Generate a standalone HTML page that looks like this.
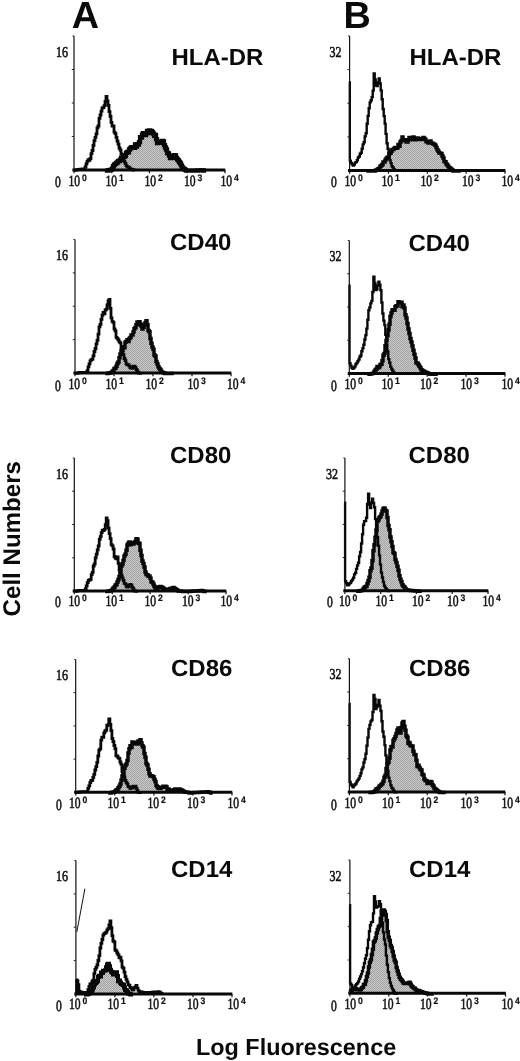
<!DOCTYPE html>
<html lang="en">
<head>
<meta charset="utf-8">
<title>Figure</title>
<style>html,body{margin:0;padding:0;background:#fff}svg{display:block;will-change:transform;opacity:.999}text{-webkit-font-smoothing:antialiased;text-rendering:geometricPrecision}</style>
</head>
<body>
<svg width="520" height="1061" viewBox="0 0 520 1061">
<defs><pattern id="ht" width="2" height="2" patternUnits="userSpaceOnUse"><rect width="2" height="2" fill="#c8c8c8"/><rect width="1" height="1" fill="#a4a4a4"/><rect x="1" y="1" width="1" height="1" fill="#a4a4a4"/></pattern></defs>
<rect width="520" height="1061" fill="#fff"/>
<g font-family="'Liberation Sans',sans-serif" font-weight="bold" fill="#0a0a0a">
<text x="71.8" y="27.8" font-size="37.8">A</text>
<text x="343.6" y="27.8" font-size="37.8">B</text>
<text x="196" y="1054.5" font-size="23.4">Log Fluorescence</text>
<text transform="translate(19.6 616.4) rotate(-90)" font-size="24.1">Cell Numbers</text>
</g>
<g>
<path d="M107.0 170.0H108.0V170.0H109.0V170.0H110.0V169.9H111.0V169.7H112.0V168.6H113.0V166.2H114.0V164.7H115.0V163.9H116.0V163.0H117.0V162.4H118.0V161.0H119.0V161.1H120.0V159.7H121.0V157.7H122.0V157.6H123.0V155.4H124.0V156.8H125.0V155.8H126.0V152.9H127.0V151.8H128.0V152.3H129.0V149.5H130.0V148.4H131.0V147.4H132.0V147.1H133.0V147.4H134.0V147.9H135.0V144.4H136.0V146.5H137.0V144.2H138.0V144.5H139.0V142.1H140.0V137.2H141.0V137.5H142.0V134.4H143.0V133.1H144.0V134.1H145.0V135.0H146.0V133.3H147.0V131.0H148.0V132.8H149.0V130.5H150.0V133.2H151.0V131.0H152.0V132.2H153.0V133.7H154.0V135.8H155.0V134.8H156.0V139.1H157.0V143.2H158.0V142.8H159.0V142.9H160.0V142.9H161.0V141.5H162.0V141.0H163.0V141.4H164.0V145.2H165.0V147.5H166.0V149.5H167.0V153.0H168.0V153.3H169.0V155.6H170.0V158.2H171.0V158.0H172.0V157.8H173.0V156.7H174.0V155.2H175.0V155.5H176.0V157.9H177.0V159.4H178.0V160.4H179.0V162.0H180.0V163.4H181.0V165.3H182.0V167.4H183.0V168.6H184.0V169.2H185.0V169.9H186.0V170.0H187.0V170.0H188.0V170.0H189.0V170.0H190.0V170.0H191.0V170.0H192.0V170.0H193.0V170.0H194.0V170.0H195.0V170.0H196.0V170.0H197.0V170.0H198.0V170.0H199.0V170.0H200.0V170.0H201.0V170.0H202.0V170.0H203.0V170.0H204.0V170.0V170.0H107.0Z" fill="url(#ht)" stroke="none"/>
<path d="M107.0 170.6H108.0V170.4H109.0V170.1H110.0V169.9H111.0V169.7H112.0V168.6H113.0V166.2H114.0V164.7H115.0V163.9H116.0V163.0H117.0V162.4H118.0V161.0H119.0V161.1H120.0V159.7H121.0V157.7H122.0V157.6H123.0V155.4H124.0V156.8H125.0V155.8H126.0V152.9H127.0V151.8H128.0V152.3H129.0V149.5H130.0V148.4H131.0V147.4H132.0V147.1H133.0V147.4H134.0V147.9H135.0V144.4H136.0V146.5H137.0V144.2H138.0V144.5H139.0V142.1H140.0V137.2H141.0V137.5H142.0V134.4H143.0V133.1H144.0V134.1H145.0V135.0H146.0V133.3H147.0V131.0H148.0V132.8H149.0V130.5H150.0V133.2H151.0V131.0H152.0V132.2H153.0V133.7H154.0V135.8H155.0V134.8H156.0V139.1H157.0V143.2H158.0V142.8H159.0V142.9H160.0V142.9H161.0V141.5H162.0V141.0H163.0V141.4H164.0V145.2H165.0V147.5H166.0V149.5H167.0V153.0H168.0V153.3H169.0V155.6H170.0V158.2H171.0V158.0H172.0V157.8H173.0V156.7H174.0V155.2H175.0V155.5H176.0V157.9H177.0V159.4H178.0V160.4H179.0V162.0H180.0V163.4H181.0V165.3H182.0V167.4H183.0V168.6H184.0V169.2H185.0V169.9H186.0V170.6H187.0V170.6H188.0V170.6H189.0V170.6H190.0V170.6H191.0V170.6H192.0V170.6H193.0V170.6H194.0V170.6H195.0V170.6H196.0V170.6H197.0V170.5H198.0V170.4H199.0V170.4H200.0V170.3H201.0V170.2H202.0V170.3H203.0V170.5H204.0V170.6" fill="none" stroke="#080808" stroke-width="4.3" stroke-linejoin="miter" stroke-linecap="square"/>
<path d="M74.0 170.3H75.0V170.2H76.0V169.9H77.0V169.7H78.0V169.4H79.0V169.3H80.0V169.2H81.0V169.1H82.0V169.0H83.0V168.9H84.0V168.8H85.0V167.0H86.0V163.8H87.0V161.4H88.0V159.6H89.0V160.4H90.0V158.5H91.0V153.6H92.0V150.5H93.0V145.4H94.0V140.6H95.0V137.3H96.0V133.8H97.0V127.9H98.0V126.0H99.0V118.4H100.0V115.0H101.0V111.2H102.0V107.9H103.0V107.7H104.0V105.7H105.0V101.4H106.0V96.5H107.0V100.9H108.0V105.4H109.0V111.6H110.0V116.4H111.0V122.4H112.0V126.1H113.0V126.0H114.0V132.2H115.0V133.7H116.0V137.3H117.0V141.1H118.0V144.2H119.0V148.0H120.0V150.0H121.0V153.8H122.0V155.7H123.0V159.6H124.0V161.3H125.0V163.5H126.0V165.7H127.0V166.8H128.0V167.0H129.0V167.9H130.0V168.8H131.0V169.1H132.0V169.5H133.0V169.9H134.0V170.2H135.0V170.3" fill="none" stroke="#080808" stroke-width="2.8" stroke-linejoin="miter"/>
<line x1="74.0" y1="36.0" x2="74.0" y2="171.0" stroke="#111" stroke-width="1.2"/>
<line x1="72.4" y1="170.0" x2="225.3" y2="170.0" stroke="#080808" stroke-width="3.0"/>
<line x1="71.8" y1="136.5" x2="74.0" y2="136.5" stroke="#222" stroke-width="1"/>
<line x1="71.8" y1="103.0" x2="74.0" y2="103.0" stroke="#222" stroke-width="1"/>
<line x1="71.8" y1="69.5" x2="74.0" y2="69.5" stroke="#222" stroke-width="1"/>
<line x1="72.5" y1="36.0" x2="74.0" y2="36.0" stroke="#222" stroke-width="1"/>
<line x1="74.0" y1="170.0" x2="74.0" y2="173.2" stroke="#111" stroke-width="1.2"/>
<line x1="111.8" y1="170.0" x2="111.8" y2="173.2" stroke="#111" stroke-width="1.2"/>
<line x1="149.5" y1="170.0" x2="149.5" y2="173.2" stroke="#111" stroke-width="1.2"/>
<line x1="187.2" y1="170.0" x2="187.2" y2="173.2" stroke="#111" stroke-width="1.2"/>
<line x1="225.0" y1="170.0" x2="225.0" y2="173.2" stroke="#111" stroke-width="1.2"/>
<g fill="#111">
<text transform="translate(56.1 56.6) scale(0.790 1)" font-family="'Liberation Serif',serif" font-size="15.2" font-weight="normal" stroke="#111" stroke-width="0.60">16</text>
<text transform="translate(55.1 187.0) scale(0.745 1)" font-family="'Liberation Serif',serif" font-size="15.6" font-weight="normal" stroke="#111" stroke-width="0.60">0</text>
<text transform="translate(68.4 185.6) scale(0.745 1)" font-family="'Liberation Serif',serif" font-size="15.6" font-weight="normal" stroke="#111" stroke-width="0.60">10</text>
<text transform="translate(81.9 180.6) scale(0.920 1)" font-family="'Liberation Sans',serif" font-size="9.4" font-weight="bold" stroke="#111" stroke-width="0.20">0</text>
<text transform="translate(105.4 185.6) scale(0.745 1)" font-family="'Liberation Serif',serif" font-size="15.6" font-weight="normal" stroke="#111" stroke-width="0.60">10</text>
<text transform="translate(118.9 180.6) scale(0.920 1)" font-family="'Liberation Sans',serif" font-size="9.4" font-weight="bold" stroke="#111" stroke-width="0.20">1</text>
<text transform="translate(144.4 185.6) scale(0.745 1)" font-family="'Liberation Serif',serif" font-size="15.6" font-weight="normal" stroke="#111" stroke-width="0.60">10</text>
<text transform="translate(157.9 180.6) scale(0.920 1)" font-family="'Liberation Sans',serif" font-size="9.4" font-weight="bold" stroke="#111" stroke-width="0.20">2</text>
<text transform="translate(183.9 185.6) scale(0.745 1)" font-family="'Liberation Serif',serif" font-size="15.6" font-weight="normal" stroke="#111" stroke-width="0.60">10</text>
<text transform="translate(197.4 180.6) scale(0.920 1)" font-family="'Liberation Sans',serif" font-size="9.4" font-weight="bold" stroke="#111" stroke-width="0.20">3</text>
<text transform="translate(220.4 185.6) scale(0.745 1)" font-family="'Liberation Serif',serif" font-size="15.6" font-weight="normal" stroke="#111" stroke-width="0.60">10</text>
<text transform="translate(233.9 180.6) scale(0.920 1)" font-family="'Liberation Sans',serif" font-size="9.4" font-weight="bold" stroke="#111" stroke-width="0.20">4</text>
</g>
<text transform="translate(171.5 64.5) scale(1.025 1)" font-family="'Liberation Sans',sans-serif" font-weight="bold" font-size="23.4" fill="#0a0a0a">HLA-DR</text>
</g>
<g>
<path d="M107.0 373.0H108.0V373.0H109.0V373.0H110.0V372.7H111.0V372.4H112.0V371.6H113.0V370.4H114.0V368.6H115.0V368.2H116.0V366.3H117.0V363.4H118.0V362.0H119.0V357.7H120.0V354.1H121.0V350.8H122.0V350.3H123.0V346.7H124.0V347.7H125.0V342.3H126.0V341.5H127.0V339.8H128.0V341.4H129.0V338.4H130.0V337.5H131.0V335.1H132.0V334.9H133.0V331.9H134.0V328.7H135.0V327.6H136.0V324.7H137.0V322.0H138.0V324.8H139.0V321.7H140.0V323.9H141.0V325.9H142.0V329.0H143.0V327.3H144.0V324.8H145.0V322.7H146.0V320.8H147.0V324.7H148.0V330.4H149.0V331.7H150.0V338.4H151.0V343.3H152.0V347.1H153.0V349.3H154.0V355.0H155.0V356.3H156.0V361.4H157.0V364.0H158.0V366.8H159.0V368.4H160.0V369.6H161.0V371.4H162.0V372.2H163.0V372.7H164.0V373.0H165.0V373.0H166.0V373.0H167.0V373.0H168.0V373.0H169.0V373.0H170.0V373.0H171.0V373.0H172.0V373.0V373.0H107.0Z" fill="url(#ht)" stroke="none"/>
<path d="M107.0 373.6H108.0V373.3H109.0V373.0H110.0V372.7H111.0V372.4H112.0V371.6H113.0V370.4H114.0V368.6H115.0V368.2H116.0V366.3H117.0V363.4H118.0V362.0H119.0V357.7H120.0V354.1H121.0V350.8H122.0V350.3H123.0V346.7H124.0V347.7H125.0V342.3H126.0V341.5H127.0V339.8H128.0V341.4H129.0V338.4H130.0V337.5H131.0V335.1H132.0V334.9H133.0V331.9H134.0V328.7H135.0V327.6H136.0V324.7H137.0V322.0H138.0V324.8H139.0V321.7H140.0V323.9H141.0V325.9H142.0V329.0H143.0V327.3H144.0V324.8H145.0V322.7H146.0V320.8H147.0V324.7H148.0V330.4H149.0V331.7H150.0V338.4H151.0V343.3H152.0V347.1H153.0V349.3H154.0V355.0H155.0V356.3H156.0V361.4H157.0V364.0H158.0V366.8H159.0V368.4H160.0V369.6H161.0V371.4H162.0V372.2H163.0V372.7H164.0V373.1H165.0V373.6H166.0V373.6H167.0V373.6H168.0V373.6H169.0V373.6H170.0V373.6H171.0V373.6H172.0V373.6" fill="none" stroke="#080808" stroke-width="3.5" stroke-linejoin="miter" stroke-linecap="square"/>
<path d="M75.0 373.3H76.0V373.3H77.0V373.1H78.0V372.8H79.0V372.6H80.0V372.4H81.0V372.4H82.0V372.4H83.0V372.4H84.0V372.4H85.0V372.4H86.0V372.4H87.0V370.7H88.0V366.8H89.0V363.9H90.0V360.9H91.0V359.7H92.0V359.2H93.0V355.9H94.0V351.5H95.0V348.6H96.0V343.8H97.0V340.3H98.0V334.1H99.0V326.9H100.0V324.3H101.0V319.4H102.0V315.2H103.0V312.5H104.0V313.9H105.0V310.2H106.0V309.1H107.0V304.8H108.0V301.0H109.0V299.5H110.0V308.4H111.0V317.9H112.0V321.4H113.0V322.3H114.0V328.9H115.0V330.9H116.0V337.3H117.0V338.4H118.0V339.9H119.0V341.8H120.0V342.8H121.0V347.7H122.0V352.9H123.0V354.7H124.0V358.5H125.0V360.7H126.0V363.8H127.0V364.9H128.0V364.6H129.0V366.2H130.0V367.8H131.0V368.1H132.0V368.3H133.0V366.2H134.0V366.2H135.0V367.4H136.0V369.5H137.0V370.9H138.0V372.9H139.0V373.1H140.0V373.3H141.0V373.3H142.0V373.3" fill="none" stroke="#080808" stroke-width="2.8" stroke-linejoin="miter"/>
<line x1="75.0" y1="239.5" x2="75.0" y2="374.0" stroke="#111" stroke-width="1.2"/>
<line x1="73.4" y1="373.0" x2="231.3" y2="373.0" stroke="#080808" stroke-width="3.0"/>
<line x1="72.8" y1="339.6" x2="75.0" y2="339.6" stroke="#222" stroke-width="1"/>
<line x1="72.8" y1="306.2" x2="75.0" y2="306.2" stroke="#222" stroke-width="1"/>
<line x1="72.8" y1="272.9" x2="75.0" y2="272.9" stroke="#222" stroke-width="1"/>
<line x1="73.5" y1="239.5" x2="75.0" y2="239.5" stroke="#222" stroke-width="1"/>
<line x1="75.0" y1="373.0" x2="75.0" y2="376.2" stroke="#111" stroke-width="1.2"/>
<line x1="114.0" y1="373.0" x2="114.0" y2="376.2" stroke="#111" stroke-width="1.2"/>
<line x1="153.0" y1="373.0" x2="153.0" y2="376.2" stroke="#111" stroke-width="1.2"/>
<line x1="192.0" y1="373.0" x2="192.0" y2="376.2" stroke="#111" stroke-width="1.2"/>
<line x1="231.0" y1="373.0" x2="231.0" y2="376.2" stroke="#111" stroke-width="1.2"/>
<g fill="#111">
<text transform="translate(56.1 260.1) scale(0.790 1)" font-family="'Liberation Serif',serif" font-size="15.2" font-weight="normal" stroke="#111" stroke-width="0.60">16</text>
<text transform="translate(55.1 390.5) scale(0.745 1)" font-family="'Liberation Serif',serif" font-size="15.6" font-weight="normal" stroke="#111" stroke-width="0.60">0</text>
<text transform="translate(68.4 389.1) scale(0.745 1)" font-family="'Liberation Serif',serif" font-size="15.6" font-weight="normal" stroke="#111" stroke-width="0.60">10</text>
<text transform="translate(81.9 384.1) scale(0.920 1)" font-family="'Liberation Sans',serif" font-size="9.4" font-weight="bold" stroke="#111" stroke-width="0.20">0</text>
<text transform="translate(105.4 389.1) scale(0.745 1)" font-family="'Liberation Serif',serif" font-size="15.6" font-weight="normal" stroke="#111" stroke-width="0.60">10</text>
<text transform="translate(118.9 384.1) scale(0.920 1)" font-family="'Liberation Sans',serif" font-size="9.4" font-weight="bold" stroke="#111" stroke-width="0.20">1</text>
<text transform="translate(145.4 389.1) scale(0.745 1)" font-family="'Liberation Serif',serif" font-size="15.6" font-weight="normal" stroke="#111" stroke-width="0.60">10</text>
<text transform="translate(158.9 384.1) scale(0.920 1)" font-family="'Liberation Sans',serif" font-size="9.4" font-weight="bold" stroke="#111" stroke-width="0.20">2</text>
<text transform="translate(187.4 389.1) scale(0.745 1)" font-family="'Liberation Serif',serif" font-size="15.6" font-weight="normal" stroke="#111" stroke-width="0.60">10</text>
<text transform="translate(200.9 384.1) scale(0.920 1)" font-family="'Liberation Sans',serif" font-size="9.4" font-weight="bold" stroke="#111" stroke-width="0.20">3</text>
<text transform="translate(226.9 389.1) scale(0.745 1)" font-family="'Liberation Serif',serif" font-size="15.6" font-weight="normal" stroke="#111" stroke-width="0.60">10</text>
<text transform="translate(240.4 384.1) scale(0.920 1)" font-family="'Liberation Sans',serif" font-size="9.4" font-weight="bold" stroke="#111" stroke-width="0.20">4</text>
</g>
<text transform="translate(170.0 249.5) scale(1.025 1)" font-family="'Liberation Sans',sans-serif" font-weight="bold" font-size="23.4" fill="#0a0a0a">CD40</text>
</g>
<g>
<path d="M107.0 591.0H108.0V591.0H109.0V591.0H110.0V590.7H111.0V590.4H112.0V589.6H113.0V587.9H114.0V587.2H115.0V585.2H116.0V584.4H117.0V582.0H118.0V579.4H119.0V576.4H120.0V572.0H121.0V565.9H122.0V563.9H123.0V560.4H124.0V556.1H125.0V554.3H126.0V550.2H127.0V544.9H128.0V543.3H129.0V542.0H130.0V544.8H131.0V542.6H132.0V544.0H133.0V543.9H134.0V542.8H135.0V541.4H136.0V538.8H137.0V539.3H138.0V542.9H139.0V543.6H140.0V550.3H141.0V555.5H142.0V560.9H143.0V563.6H144.0V567.1H145.0V572.1H146.0V574.6H147.0V574.8H148.0V576.3H149.0V576.1H150.0V578.3H151.0V581.8H152.0V582.3H153.0V583.9H154.0V586.2H155.0V587.7H156.0V588.6H157.0V587.9H158.0V587.5H159.0V586.7H160.0V586.5H161.0V586.9H162.0V587.6H163.0V588.2H164.0V589.0H165.0V589.9H166.0V590.0H167.0V589.7H168.0V589.3H169.0V588.9H170.0V588.6H171.0V588.2H172.0V588.5H173.0V587.4H174.0V588.3H175.0V588.9H176.0V589.5H177.0V590.2H178.0V590.9H179.0V591.0H180.0V591.0H181.0V591.0H182.0V591.0H183.0V591.0H184.0V591.0H185.0V591.0H186.0V591.0H187.0V591.0H188.0V591.0H189.0V591.0H190.0V591.0H191.0V591.0H192.0V591.0H193.0V591.0H194.0V591.0H195.0V591.0H196.0V590.9H197.0V590.9H198.0V590.8H199.0V590.7H200.0V590.7H201.0V590.6H202.0V590.9H203.0V591.0H204.0V591.0H205.0V591.0V591.0H107.0Z" fill="url(#ht)" stroke="none"/>
<path d="M107.0 591.6H108.0V591.3H109.0V591.0H110.0V590.7H111.0V590.4H112.0V589.6H113.0V587.9H114.0V587.2H115.0V585.2H116.0V584.4H117.0V582.0H118.0V579.4H119.0V576.4H120.0V572.0H121.0V565.9H122.0V563.9H123.0V560.4H124.0V556.1H125.0V554.3H126.0V550.2H127.0V544.9H128.0V543.3H129.0V542.0H130.0V544.8H131.0V542.6H132.0V544.0H133.0V543.9H134.0V542.8H135.0V541.4H136.0V538.8H137.0V539.3H138.0V542.9H139.0V543.6H140.0V550.3H141.0V555.5H142.0V560.9H143.0V563.6H144.0V567.1H145.0V572.1H146.0V574.6H147.0V574.8H148.0V576.3H149.0V576.1H150.0V578.3H151.0V581.8H152.0V582.3H153.0V583.9H154.0V586.2H155.0V587.7H156.0V588.6H157.0V587.9H158.0V587.5H159.0V586.7H160.0V586.5H161.0V586.9H162.0V587.6H163.0V588.2H164.0V589.0H165.0V589.9H166.0V590.0H167.0V589.7H168.0V589.3H169.0V588.9H170.0V588.6H171.0V588.2H172.0V588.5H173.0V587.4H174.0V588.3H175.0V588.9H176.0V589.5H177.0V590.2H178.0V590.9H179.0V591.0H180.0V591.1H181.0V591.2H182.0V591.3H183.0V591.4H184.0V591.5H185.0V591.6H186.0V591.5H187.0V591.5H188.0V591.4H189.0V591.4H190.0V591.3H191.0V591.2H192.0V591.2H193.0V591.1H194.0V591.1H195.0V591.0H196.0V590.9H197.0V590.9H198.0V590.8H199.0V590.7H200.0V590.7H201.0V590.6H202.0V590.9H203.0V591.1H204.0V591.4H205.0V591.6" fill="none" stroke="#080808" stroke-width="3.5" stroke-linejoin="miter" stroke-linecap="square"/>
<path d="M74.3 591.3H75.3V591.3H76.3V591.0H77.3V590.8H78.3V590.5H79.3V590.4H80.3V590.4H81.3V590.4H82.3V590.4H83.3V590.4H84.3V590.4H85.2V588.8H86.2V585.8H87.2V582.6H88.2V580.3H89.2V580.0H90.2V579.4H91.2V574.7H92.2V572.3H93.2V566.0H94.2V563.9H95.2V557.8H96.2V554.1H97.2V549.8H98.2V545.9H99.2V539.3H100.2V536.6H101.2V532.6H102.2V530.2H103.2V530.7H104.2V529.4H105.2V524.6H106.2V518.0H107.1V520.7H108.1V528.2H109.1V533.6H110.1V538.7H111.1V544.7H112.1V545.9H113.1V549.0H114.1V556.5H115.1V558.2H116.1V558.8H117.1V557.0H118.1V563.4H119.1V569.8H120.1V574.9H121.1V575.2H122.1V577.8H123.1V580.5H124.1V583.3H125.1V583.8H126.1V586.7H127.1V587.2H128.0V586.7H129.0V585.1H130.0V584.3H131.0V585.1H132.0V587.4H133.0V588.8H134.0V590.9H135.0V591.1H136.0V591.3H137.0V591.3H138.0V591.3" fill="none" stroke="#080808" stroke-width="2.8" stroke-linejoin="miter"/>
<line x1="74.3" y1="458.0" x2="74.3" y2="592.0" stroke="#111" stroke-width="1.2"/>
<line x1="72.7" y1="591.0" x2="226.3" y2="591.0" stroke="#080808" stroke-width="3.0"/>
<line x1="72.1" y1="557.8" x2="74.3" y2="557.8" stroke="#222" stroke-width="1"/>
<line x1="72.1" y1="524.5" x2="74.3" y2="524.5" stroke="#222" stroke-width="1"/>
<line x1="72.1" y1="491.2" x2="74.3" y2="491.2" stroke="#222" stroke-width="1"/>
<line x1="72.8" y1="458.0" x2="74.3" y2="458.0" stroke="#222" stroke-width="1"/>
<line x1="74.3" y1="591.0" x2="74.3" y2="594.2" stroke="#111" stroke-width="1.2"/>
<line x1="112.2" y1="591.0" x2="112.2" y2="594.2" stroke="#111" stroke-width="1.2"/>
<line x1="150.1" y1="591.0" x2="150.1" y2="594.2" stroke="#111" stroke-width="1.2"/>
<line x1="188.1" y1="591.0" x2="188.1" y2="594.2" stroke="#111" stroke-width="1.2"/>
<line x1="226.0" y1="591.0" x2="226.0" y2="594.2" stroke="#111" stroke-width="1.2"/>
<g fill="#111">
<text transform="translate(56.1 478.6) scale(0.790 1)" font-family="'Liberation Serif',serif" font-size="15.2" font-weight="normal" stroke="#111" stroke-width="0.60">16</text>
<text transform="translate(55.1 607.0) scale(0.745 1)" font-family="'Liberation Serif',serif" font-size="15.6" font-weight="normal" stroke="#111" stroke-width="0.60">0</text>
<text transform="translate(68.4 605.6) scale(0.745 1)" font-family="'Liberation Serif',serif" font-size="15.6" font-weight="normal" stroke="#111" stroke-width="0.60">10</text>
<text transform="translate(81.9 600.6) scale(0.920 1)" font-family="'Liberation Sans',serif" font-size="9.4" font-weight="bold" stroke="#111" stroke-width="0.20">0</text>
<text transform="translate(105.4 605.6) scale(0.745 1)" font-family="'Liberation Serif',serif" font-size="15.6" font-weight="normal" stroke="#111" stroke-width="0.60">10</text>
<text transform="translate(118.9 600.6) scale(0.920 1)" font-family="'Liberation Sans',serif" font-size="9.4" font-weight="bold" stroke="#111" stroke-width="0.20">1</text>
<text transform="translate(144.4 605.6) scale(0.745 1)" font-family="'Liberation Serif',serif" font-size="15.6" font-weight="normal" stroke="#111" stroke-width="0.60">10</text>
<text transform="translate(157.9 600.6) scale(0.920 1)" font-family="'Liberation Sans',serif" font-size="9.4" font-weight="bold" stroke="#111" stroke-width="0.20">2</text>
<text transform="translate(181.9 605.6) scale(0.745 1)" font-family="'Liberation Serif',serif" font-size="15.6" font-weight="normal" stroke="#111" stroke-width="0.60">10</text>
<text transform="translate(195.4 600.6) scale(0.920 1)" font-family="'Liberation Sans',serif" font-size="9.4" font-weight="bold" stroke="#111" stroke-width="0.20">3</text>
<text transform="translate(220.4 605.6) scale(0.745 1)" font-family="'Liberation Serif',serif" font-size="15.6" font-weight="normal" stroke="#111" stroke-width="0.60">10</text>
<text transform="translate(233.9 600.6) scale(0.920 1)" font-family="'Liberation Sans',serif" font-size="9.4" font-weight="bold" stroke="#111" stroke-width="0.20">4</text>
</g>
<text transform="translate(170.0 463.0) scale(1.025 1)" font-family="'Liberation Sans',sans-serif" font-weight="bold" font-size="23.4" fill="#0a0a0a">CD80</text>
</g>
<g>
<path d="M110.0 792.3H111.0V792.3H112.0V792.3H113.0V792.1H114.0V791.9H115.0V791.1H116.0V790.0H117.0V789.6H118.0V787.7H119.0V786.2H120.0V783.9H121.0V780.3H122.0V776.0H123.0V773.7H124.0V768.2H125.0V765.6H126.0V764.1H127.0V760.6H128.0V753.1H129.0V748.8H130.0V745.8H131.0V747.6H132.0V742.1H133.0V743.7H134.0V742.6H135.0V742.2H136.0V742.5H137.0V744.1H138.0V741.1H139.0V741.0H140.0V739.8H141.0V742.9H142.0V745.8H143.0V747.2H144.0V753.4H145.0V757.3H146.0V763.4H147.0V764.9H148.0V769.2H149.0V773.8H150.0V775.9H151.0V775.8H152.0V776.3H153.0V776.8H154.0V779.3H155.0V781.5H156.0V785.4H157.0V786.7H158.0V788.2H159.0V788.6H160.0V788.4H161.0V787.3H162.0V787.2H163.0V786.2H164.0V786.2H165.0V786.3H166.0V787.0H167.0V789.3H168.0V789.1H169.0V790.5H170.0V790.4H171.0V790.2H172.0V790.0H173.0V790.2H174.0V789.8H175.0V788.9H176.0V789.2H177.0V789.7H178.0V789.5H179.0V788.9H180.0V789.7H181.0V790.0H182.0V790.6H183.0V791.2H184.0V791.8H185.0V792.0H186.0V792.2H187.0V792.3H188.0V792.3H189.0V792.3H190.0V792.3H191.0V792.3H192.0V792.3H193.0V792.3H194.0V792.3H195.0V792.3H196.0V792.3H197.0V792.3H198.0V792.3H199.0V792.3H200.0V792.3H201.0V792.2H202.0V792.1H203.0V792.1H204.0V792.0H205.0V792.0H206.0V791.9H207.0V791.8H208.0V792.0H209.0V792.3H210.0V792.3H211.0V792.3V792.3H110.0Z" fill="url(#ht)" stroke="none"/>
<path d="M110.0 792.9H111.0V792.6H112.0V792.4H113.0V792.1H114.0V791.9H115.0V791.1H116.0V790.0H117.0V789.6H118.0V787.7H119.0V786.2H120.0V783.9H121.0V780.3H122.0V776.0H123.0V773.7H124.0V768.2H125.0V765.6H126.0V764.1H127.0V760.6H128.0V753.1H129.0V748.8H130.0V745.8H131.0V747.6H132.0V742.1H133.0V743.7H134.0V742.6H135.0V742.2H136.0V742.5H137.0V744.1H138.0V741.1H139.0V741.0H140.0V739.8H141.0V742.9H142.0V745.8H143.0V747.2H144.0V753.4H145.0V757.3H146.0V763.4H147.0V764.9H148.0V769.2H149.0V773.8H150.0V775.9H151.0V775.8H152.0V776.3H153.0V776.8H154.0V779.3H155.0V781.5H156.0V785.4H157.0V786.7H158.0V788.2H159.0V788.6H160.0V788.4H161.0V787.3H162.0V787.2H163.0V786.2H164.0V786.2H165.0V786.3H166.0V787.0H167.0V789.3H168.0V789.1H169.0V790.5H170.0V790.4H171.0V790.2H172.0V790.0H173.0V790.2H174.0V789.8H175.0V788.9H176.0V789.2H177.0V789.7H178.0V789.5H179.0V788.9H180.0V789.7H181.0V790.0H182.0V790.6H183.0V791.2H184.0V791.8H185.0V792.0H186.0V792.2H187.0V792.3H188.0V792.5H189.0V792.7H190.0V792.9H191.0V792.8H192.0V792.8H193.0V792.7H194.0V792.6H195.0V792.6H196.0V792.5H197.0V792.5H198.0V792.4H199.0V792.3H200.0V792.3H201.0V792.2H202.0V792.1H203.0V792.1H204.0V792.0H205.0V792.0H206.0V791.9H207.0V791.8H208.0V792.0H209.0V792.3H210.0V792.6H211.0V792.9" fill="none" stroke="#080808" stroke-width="3.5" stroke-linejoin="miter" stroke-linecap="square"/>
<path d="M75.7 792.5H76.7V792.3H77.7V792.2H78.7V792.0H79.7V791.9H80.7V791.7H81.7V791.7H82.7V791.7H83.7V791.7H84.7V791.7H85.7V791.7H86.8V791.7H87.8V788.4H88.8V785.9H89.8V782.7H90.8V780.5H91.8V780.4H92.8V777.4H93.8V774.4H94.8V770.0H95.8V766.6H96.8V762.3H97.8V756.0H98.8V750.2H99.8V748.8H100.8V740.1H101.8V737.2H102.8V737.4H103.8V732.8H104.8V731.0H105.8V730.2H106.8V725.5H107.8V724.7H108.8V719.0H109.9V724.3H110.9V730.7H111.9V738.5H112.9V741.5H113.9V745.5H114.9V748.6H115.9V755.8H116.9V756.0H117.9V757.8H118.9V758.3H119.9V762.0H120.9V764.3H121.9V771.4H122.9V775.3H123.9V776.9H124.9V780.4H125.9V782.4H126.9V783.9H127.9V786.5H128.9V786.8H129.9V788.7H130.9V787.2H132.0V787.8H133.0V786.2H134.0V786.9H135.0V786.1H136.0V788.3H137.0V790.6H138.0V792.4H139.0V792.6H140.0V792.6H141.0V792.6H142.0V792.6" fill="none" stroke="#080808" stroke-width="2.8" stroke-linejoin="miter"/>
<line x1="75.7" y1="659.5" x2="75.7" y2="793.3" stroke="#111" stroke-width="1.2"/>
<line x1="74.1" y1="792.3" x2="232.3" y2="792.3" stroke="#080808" stroke-width="3.0"/>
<line x1="73.5" y1="759.1" x2="75.7" y2="759.1" stroke="#222" stroke-width="1"/>
<line x1="73.5" y1="725.9" x2="75.7" y2="725.9" stroke="#222" stroke-width="1"/>
<line x1="73.5" y1="692.7" x2="75.7" y2="692.7" stroke="#222" stroke-width="1"/>
<line x1="74.2" y1="659.5" x2="75.7" y2="659.5" stroke="#222" stroke-width="1"/>
<line x1="75.7" y1="792.3" x2="75.7" y2="795.5" stroke="#111" stroke-width="1.2"/>
<line x1="114.8" y1="792.3" x2="114.8" y2="795.5" stroke="#111" stroke-width="1.2"/>
<line x1="153.9" y1="792.3" x2="153.9" y2="795.5" stroke="#111" stroke-width="1.2"/>
<line x1="192.9" y1="792.3" x2="192.9" y2="795.5" stroke="#111" stroke-width="1.2"/>
<line x1="232.0" y1="792.3" x2="232.0" y2="795.5" stroke="#111" stroke-width="1.2"/>
<g fill="#111">
<text transform="translate(56.1 679.6) scale(0.790 1)" font-family="'Liberation Serif',serif" font-size="15.2" font-weight="normal" stroke="#111" stroke-width="0.60">16</text>
<text transform="translate(56.1 809.5) scale(0.745 1)" font-family="'Liberation Serif',serif" font-size="15.6" font-weight="normal" stroke="#111" stroke-width="0.60">0</text>
<text transform="translate(68.9 808.1) scale(0.745 1)" font-family="'Liberation Serif',serif" font-size="15.6" font-weight="normal" stroke="#111" stroke-width="0.60">10</text>
<text transform="translate(82.4 803.1) scale(0.920 1)" font-family="'Liberation Sans',serif" font-size="9.4" font-weight="bold" stroke="#111" stroke-width="0.20">0</text>
<text transform="translate(107.4 808.1) scale(0.745 1)" font-family="'Liberation Serif',serif" font-size="15.6" font-weight="normal" stroke="#111" stroke-width="0.60">10</text>
<text transform="translate(120.9 803.1) scale(0.920 1)" font-family="'Liberation Sans',serif" font-size="9.4" font-weight="bold" stroke="#111" stroke-width="0.20">1</text>
<text transform="translate(147.4 808.1) scale(0.745 1)" font-family="'Liberation Serif',serif" font-size="15.6" font-weight="normal" stroke="#111" stroke-width="0.60">10</text>
<text transform="translate(160.9 803.1) scale(0.920 1)" font-family="'Liberation Sans',serif" font-size="9.4" font-weight="bold" stroke="#111" stroke-width="0.20">2</text>
<text transform="translate(186.9 808.1) scale(0.745 1)" font-family="'Liberation Serif',serif" font-size="15.6" font-weight="normal" stroke="#111" stroke-width="0.60">10</text>
<text transform="translate(200.4 803.1) scale(0.920 1)" font-family="'Liberation Sans',serif" font-size="9.4" font-weight="bold" stroke="#111" stroke-width="0.20">3</text>
<text transform="translate(227.4 808.1) scale(0.745 1)" font-family="'Liberation Serif',serif" font-size="15.6" font-weight="normal" stroke="#111" stroke-width="0.60">10</text>
<text transform="translate(240.9 803.1) scale(0.920 1)" font-family="'Liberation Sans',serif" font-size="9.4" font-weight="bold" stroke="#111" stroke-width="0.20">4</text>
</g>
<text transform="translate(171.0 675.5) scale(1.025 1)" font-family="'Liberation Sans',sans-serif" font-weight="bold" font-size="23.4" fill="#0a0a0a">CD86</text>
</g>
<g>
<path d="M86.0 994.0H87.0V994.0H88.0V993.8H89.0V993.3H90.0V992.9H91.0V991.8H92.0V989.6H93.0V987.2H94.0V984.4H95.0V982.9H96.0V982.2H97.0V980.9H98.0V977.0H99.0V975.8H100.0V976.6H101.0V972.5H102.0V973.1H103.0V970.8H104.0V970.8H105.0V970.2H106.0V967.2H107.0V964.4H108.0V963.7H109.0V966.2H110.0V969.7H111.0V971.7H112.0V972.6H113.0V974.4H114.0V974.4H115.0V972.3H116.0V972.3H117.0V976.0H118.0V981.2H119.0V980.6H120.0V982.7H121.0V983.9H122.0V984.6H123.0V985.1H124.0V987.4H125.0V990.0H126.0V990.5H127.0V992.1H128.0V993.4H129.0V993.8H130.0V994.0H131.0V994.0V994.0H86.0Z" fill="url(#ht)" stroke="none"/>
<path d="M86.0 994.6H87.0V994.2H88.0V993.8H89.0V993.3H90.0V992.9H91.0V991.8H92.0V989.6H93.0V987.2H94.0V984.4H95.0V982.9H96.0V982.2H97.0V980.9H98.0V977.0H99.0V975.8H100.0V976.6H101.0V972.5H102.0V973.1H103.0V970.8H104.0V970.8H105.0V970.2H106.0V967.2H107.0V964.4H108.0V963.7H109.0V966.2H110.0V969.7H111.0V971.7H112.0V972.6H113.0V974.4H114.0V974.4H115.0V972.3H116.0V972.3H117.0V976.0H118.0V981.2H119.0V980.6H120.0V982.7H121.0V983.9H122.0V984.6H123.0V985.1H124.0V987.4H125.0V990.0H126.0V990.5H127.0V992.1H128.0V993.4H129.0V993.8H130.0V994.2H131.0V994.6" fill="none" stroke="#080808" stroke-width="4.0" stroke-linejoin="miter" stroke-linecap="square"/>
<path d="M75.9 980.0H76.9V980.7H77.9V984.7H78.9V991.2H79.9V991.9H80.9V992.2H81.9V992.5H82.9V992.8H83.9V992.7H84.9V992.5H85.9V992.4H86.9V992.3H87.9V989.7H88.9V986.3H89.9V983.9H90.9V983.7H91.9V981.5H92.9V980.2H93.9V973.6H94.9V969.3H95.9V967.4H96.9V964.8H97.9V960.5H98.9V955.7H99.9V948.0H100.9V943.4H101.9V939.5H102.9V935.2H103.9V933.6H104.9V933.0H105.9V932.2H106.9V929.8H107.9V928.6H108.9V925.0H109.9V921.0H110.9V927.6H111.9V935.6H112.9V941.0H113.9V941.9H114.9V950.0H115.9V950.9H116.9V953.0H117.9V954.9H119.0V957.8H120.0V957.1H121.0V960.9H122.0V967.2H123.0V968.2H124.0V972.2H125.0V976.6H126.0V979.3H127.0V981.8H128.0V984.6H129.0V985.4H130.0V987.5H131.0V988.3H132.0V990.0H133.0V990.1H134.0V987.7H135.0V986.8H136.0V985.4H137.0V988.2H138.0V990.4H139.0V991.6H140.0V991.6H141.0V991.8H142.0V992.1H143.0V992.3H144.0V992.5H145.0V992.8H146.0V992.7H147.0V992.6H148.0V992.5H149.0V992.4H150.0V992.4H151.0V992.3H152.0V992.2H153.0V992.1H154.0V992.0H155.0V991.9H156.0V991.8H157.0V991.8H158.0V991.7H159.0V992.0H160.0V992.6H161.0V993.3H162.0V993.9" fill="none" stroke="#080808" stroke-width="2.8" stroke-linejoin="miter"/>
<line x1="75.9" y1="860.5" x2="75.9" y2="995.0" stroke="#111" stroke-width="1.2"/>
<line x1="74.3" y1="994.0" x2="232.3" y2="994.0" stroke="#080808" stroke-width="3.0"/>
<line x1="73.7" y1="960.6" x2="75.9" y2="960.6" stroke="#222" stroke-width="1"/>
<line x1="73.7" y1="927.2" x2="75.9" y2="927.2" stroke="#222" stroke-width="1"/>
<line x1="73.7" y1="893.9" x2="75.9" y2="893.9" stroke="#222" stroke-width="1"/>
<line x1="74.4" y1="860.5" x2="75.9" y2="860.5" stroke="#222" stroke-width="1"/>
<line x1="75.9" y1="994.0" x2="75.9" y2="997.2" stroke="#111" stroke-width="1.2"/>
<line x1="114.9" y1="994.0" x2="114.9" y2="997.2" stroke="#111" stroke-width="1.2"/>
<line x1="153.9" y1="994.0" x2="153.9" y2="997.2" stroke="#111" stroke-width="1.2"/>
<line x1="193.0" y1="994.0" x2="193.0" y2="997.2" stroke="#111" stroke-width="1.2"/>
<line x1="232.0" y1="994.0" x2="232.0" y2="997.2" stroke="#111" stroke-width="1.2"/>
<g fill="#111">
<text transform="translate(56.1 880.6) scale(0.790 1)" font-family="'Liberation Serif',serif" font-size="15.2" font-weight="normal" stroke="#111" stroke-width="0.60">16</text>
<text transform="translate(56.1 1010.5) scale(0.745 1)" font-family="'Liberation Serif',serif" font-size="15.6" font-weight="normal" stroke="#111" stroke-width="0.60">0</text>
<text transform="translate(68.9 1009.1) scale(0.745 1)" font-family="'Liberation Serif',serif" font-size="15.6" font-weight="normal" stroke="#111" stroke-width="0.60">10</text>
<text transform="translate(82.4 1004.1) scale(0.920 1)" font-family="'Liberation Sans',serif" font-size="9.4" font-weight="bold" stroke="#111" stroke-width="0.20">0</text>
<text transform="translate(107.4 1009.1) scale(0.745 1)" font-family="'Liberation Serif',serif" font-size="15.6" font-weight="normal" stroke="#111" stroke-width="0.60">10</text>
<text transform="translate(120.9 1004.1) scale(0.920 1)" font-family="'Liberation Sans',serif" font-size="9.4" font-weight="bold" stroke="#111" stroke-width="0.20">1</text>
<text transform="translate(147.4 1009.1) scale(0.745 1)" font-family="'Liberation Serif',serif" font-size="15.6" font-weight="normal" stroke="#111" stroke-width="0.60">10</text>
<text transform="translate(160.9 1004.1) scale(0.920 1)" font-family="'Liberation Sans',serif" font-size="9.4" font-weight="bold" stroke="#111" stroke-width="0.20">2</text>
<text transform="translate(186.9 1009.1) scale(0.745 1)" font-family="'Liberation Serif',serif" font-size="15.6" font-weight="normal" stroke="#111" stroke-width="0.60">10</text>
<text transform="translate(200.4 1004.1) scale(0.920 1)" font-family="'Liberation Sans',serif" font-size="9.4" font-weight="bold" stroke="#111" stroke-width="0.20">3</text>
<text transform="translate(227.4 1009.1) scale(0.745 1)" font-family="'Liberation Serif',serif" font-size="15.6" font-weight="normal" stroke="#111" stroke-width="0.60">10</text>
<text transform="translate(240.9 1004.1) scale(0.920 1)" font-family="'Liberation Sans',serif" font-size="9.4" font-weight="bold" stroke="#111" stroke-width="0.20">4</text>
</g>
<text transform="translate(171.0 877.0) scale(1.025 1)" font-family="'Liberation Sans',sans-serif" font-weight="bold" font-size="23.4" fill="#0a0a0a">CD14</text>
<path d="M75.3 979.5H77.3L79.6 992V994H75.3Z" fill="#080808"/><line x1="76.8" y1="932" x2="84.9" y2="888.7" stroke="#111" stroke-width="1"/>
</g>
<g>
<path d="M368.0 170.5H369.0V170.5H370.0V170.5H371.0V170.5H372.0V170.5H373.0V170.5H374.0V170.5H375.0V170.5H376.0V169.9H377.0V169.4H378.0V168.8H379.0V168.3H380.0V166.2H381.0V165.6H382.0V164.6H383.0V162.1H384.0V162.0H385.0V160.0H386.0V158.5H387.0V157.4H388.0V156.9H389.0V153.4H390.0V153.3H391.0V151.2H392.0V149.6H393.0V149.5H394.0V148.3H395.0V147.6H396.0V148.3H397.0V147.7H398.0V144.4H399.0V146.2H400.0V142.0H401.0V140.8H402.0V137.0H403.0V140.1H404.0V140.3H405.0V139.8H406.0V142.1H407.0V141.9H408.0V139.8H409.0V137.5H410.0V139.8H411.0V139.1H412.0V139.2H413.0V137.0H414.0V139.4H415.0V139.8H416.0V139.2H417.0V138.1H418.0V139.1H419.0V138.7H420.0V139.5H421.0V138.6H422.0V139.2H423.0V137.5H424.0V138.4H425.0V139.4H426.0V141.7H427.0V141.7H428.0V143.0H429.0V142.7H430.0V141.1H431.0V143.0H432.0V143.2H433.0V144.0H434.0V144.3H435.0V145.2H436.0V147.4H437.0V149.8H438.0V151.3H439.0V152.9H440.0V153.3H441.0V153.6H442.0V156.1H443.0V157.9H444.0V161.4H445.0V161.7H446.0V164.1H447.0V165.1H448.0V166.6H449.0V167.8H450.0V168.3H451.0V169.2H452.0V170.1H453.0V170.5H454.0V170.5H455.0V170.5H456.0V170.5H457.0V170.5H458.0V170.5H459.0V170.5V170.5H368.0Z" fill="url(#ht)" stroke="none"/>
<path d="M368.0 171.1H369.0V171.1H370.0V171.1H371.0V171.1H372.0V171.1H373.0V171.1H374.0V171.1H375.0V170.5H376.0V169.9H377.0V169.4H378.0V168.8H379.0V168.3H380.0V166.2H381.0V165.6H382.0V164.6H383.0V162.1H384.0V162.0H385.0V160.0H386.0V158.5H387.0V157.4H388.0V156.9H389.0V153.4H390.0V153.3H391.0V151.2H392.0V149.6H393.0V149.5H394.0V148.3H395.0V147.6H396.0V148.3H397.0V147.7H398.0V144.4H399.0V146.2H400.0V142.0H401.0V140.8H402.0V137.0H403.0V140.1H404.0V140.3H405.0V139.8H406.0V142.1H407.0V141.9H408.0V139.8H409.0V137.5H410.0V139.8H411.0V139.1H412.0V139.2H413.0V137.0H414.0V139.4H415.0V139.8H416.0V139.2H417.0V138.1H418.0V139.1H419.0V138.7H420.0V139.5H421.0V138.6H422.0V139.2H423.0V137.5H424.0V138.4H425.0V139.4H426.0V141.7H427.0V141.7H428.0V143.0H429.0V142.7H430.0V141.1H431.0V143.0H432.0V143.2H433.0V144.0H434.0V144.3H435.0V145.2H436.0V147.4H437.0V149.8H438.0V151.3H439.0V152.9H440.0V153.3H441.0V153.6H442.0V156.1H443.0V157.9H444.0V161.4H445.0V161.7H446.0V164.1H447.0V165.1H448.0V166.6H449.0V167.8H450.0V168.3H451.0V169.2H452.0V170.1H453.0V171.0H454.0V171.0H455.0V171.0H456.0V171.1H457.0V171.1H458.0V171.1H459.0V171.1" fill="none" stroke="#080808" stroke-width="3.5" stroke-linejoin="miter" stroke-linecap="square"/>
<path d="M348.8 82.5H349.8V160.6H350.8V162.9H351.8V164.4H352.8V165.5H353.8V164.5H354.8V162.6H355.8V162.1H356.8V160.2H357.8V157.6H358.8V156.5H359.8V153.8H360.8V152.7H361.7V148.8H362.7V144.4H363.7V142.3H364.7V136.4H365.7V133.3H366.7V123.8H367.7V115.9H368.7V108.2H369.7V102.4H370.7V100.2H371.7V97.1H372.7V90.6H373.7V73.5H374.7V79.5H375.7V85.6H376.7V86.1H377.7V82.5H378.7V78.5H379.7V83.5H380.7V90.4H381.7V99.3H382.7V109.0H383.7V116.1H384.7V123.6H385.6V133.9H386.6V143.3H387.6V148.7H388.6V155.1H389.6V160.1H390.6V163.1H391.6V166.2H392.6V167.4H393.6V169.2H394.6V170.8H395.6V170.8H396.6V170.8H397.6V170.8" fill="none" stroke="#080808" stroke-width="2.4" stroke-linejoin="miter"/>
<line x1="349.6" y1="36.0" x2="349.6" y2="171.5" stroke="#111" stroke-width="1.2"/>
<line x1="348.0" y1="170.5" x2="505.3" y2="170.5" stroke="#080808" stroke-width="3.0"/>
<line x1="347.4" y1="136.9" x2="349.6" y2="136.9" stroke="#222" stroke-width="1"/>
<line x1="347.4" y1="103.2" x2="349.6" y2="103.2" stroke="#222" stroke-width="1"/>
<line x1="347.4" y1="69.6" x2="349.6" y2="69.6" stroke="#222" stroke-width="1"/>
<line x1="348.1" y1="36.0" x2="349.6" y2="36.0" stroke="#222" stroke-width="1"/>
<line x1="349.6" y1="170.5" x2="349.6" y2="173.7" stroke="#111" stroke-width="1.2"/>
<line x1="388.5" y1="170.5" x2="388.5" y2="173.7" stroke="#111" stroke-width="1.2"/>
<line x1="427.3" y1="170.5" x2="427.3" y2="173.7" stroke="#111" stroke-width="1.2"/>
<line x1="466.1" y1="170.5" x2="466.1" y2="173.7" stroke="#111" stroke-width="1.2"/>
<line x1="505.0" y1="170.5" x2="505.0" y2="173.7" stroke="#111" stroke-width="1.2"/>
<g fill="#111">
<text transform="translate(329.6 56.6) scale(0.790 1)" font-family="'Liberation Serif',serif" font-size="15.2" font-weight="normal" stroke="#111" stroke-width="0.60">32</text>
<text transform="translate(331.1 187.0) scale(0.745 1)" font-family="'Liberation Serif',serif" font-size="15.6" font-weight="normal" stroke="#111" stroke-width="0.60">0</text>
<text transform="translate(344.4 185.6) scale(0.745 1)" font-family="'Liberation Serif',serif" font-size="15.6" font-weight="normal" stroke="#111" stroke-width="0.60">10</text>
<text transform="translate(357.9 180.6) scale(0.920 1)" font-family="'Liberation Sans',serif" font-size="9.4" font-weight="bold" stroke="#111" stroke-width="0.20">0</text>
<text transform="translate(381.4 185.6) scale(0.745 1)" font-family="'Liberation Serif',serif" font-size="15.6" font-weight="normal" stroke="#111" stroke-width="0.60">10</text>
<text transform="translate(394.9 180.6) scale(0.920 1)" font-family="'Liberation Sans',serif" font-size="9.4" font-weight="bold" stroke="#111" stroke-width="0.20">1</text>
<text transform="translate(420.4 185.6) scale(0.745 1)" font-family="'Liberation Serif',serif" font-size="15.6" font-weight="normal" stroke="#111" stroke-width="0.60">10</text>
<text transform="translate(433.9 180.6) scale(0.920 1)" font-family="'Liberation Sans',serif" font-size="9.4" font-weight="bold" stroke="#111" stroke-width="0.20">2</text>
<text transform="translate(461.9 185.6) scale(0.745 1)" font-family="'Liberation Serif',serif" font-size="15.6" font-weight="normal" stroke="#111" stroke-width="0.60">10</text>
<text transform="translate(475.4 180.6) scale(0.920 1)" font-family="'Liberation Sans',serif" font-size="9.4" font-weight="bold" stroke="#111" stroke-width="0.20">3</text>
<text transform="translate(501.4 185.6) scale(0.745 1)" font-family="'Liberation Serif',serif" font-size="15.6" font-weight="normal" stroke="#111" stroke-width="0.60">10</text>
<text transform="translate(514.9 180.6) scale(0.920 1)" font-family="'Liberation Sans',serif" font-size="9.4" font-weight="bold" stroke="#111" stroke-width="0.20">4</text>
</g>
<text transform="translate(409.5 65.0) scale(1.025 1)" font-family="'Liberation Sans',sans-serif" font-weight="bold" font-size="23.4" fill="#0a0a0a">HLA-DR</text>
</g>
<g>
<path d="M369.0 373.6H370.0V373.6H371.0V373.6H372.0V373.5H373.0V373.2H374.0V371.5H375.0V370.0H376.0V368.9H377.0V366.6H378.0V367.7H379.0V366.8H380.0V364.5H381.0V364.3H382.0V360.8H383.0V355.3H384.0V353.4H385.0V345.7H386.0V340.4H387.0V335.6H388.0V329.9H389.0V324.3H390.0V316.6H391.0V312.9H392.0V309.9H393.0V309.8H394.0V310.2H395.0V306.7H396.0V305.7H397.0V306.0H398.0V301.7H399.0V302.2H400.0V302.8H401.0V302.2H402.0V306.7H403.0V305.1H404.0V308.0H405.0V314.7H406.0V317.9H407.0V323.5H408.0V328.9H409.0V333.6H410.0V338.6H411.0V342.0H412.0V346.0H413.0V350.3H414.0V354.2H415.0V358.0H416.0V363.0H417.0V362.9H418.0V364.4H419.0V366.3H420.0V367.7H421.0V369.7H422.0V370.6H423.0V371.0H424.0V371.5H425.0V372.2H426.0V372.6H427.0V373.0H428.0V373.4H429.0V373.6H430.0V373.6H431.0V373.6H432.0V373.6H433.0V373.6H434.0V373.6H435.0V373.6H436.0V373.6V373.6H369.0Z" fill="url(#ht)" stroke="none"/>
<path d="M369.0 374.2H370.0V374.0H371.0V373.8H372.0V373.5H373.0V373.2H374.0V371.5H375.0V370.0H376.0V368.9H377.0V366.6H378.0V367.7H379.0V366.8H380.0V364.5H381.0V364.3H382.0V360.8H383.0V355.3H384.0V353.4H385.0V345.7H386.0V340.4H387.0V335.6H388.0V329.9H389.0V324.3H390.0V316.6H391.0V312.9H392.0V309.9H393.0V309.8H394.0V310.2H395.0V306.7H396.0V305.7H397.0V306.0H398.0V301.7H399.0V302.2H400.0V302.8H401.0V302.2H402.0V306.7H403.0V305.1H404.0V308.0H405.0V314.7H406.0V317.9H407.0V323.5H408.0V328.9H409.0V333.6H410.0V338.6H411.0V342.0H412.0V346.0H413.0V350.3H414.0V354.2H415.0V358.0H416.0V363.0H417.0V362.9H418.0V364.4H419.0V366.3H420.0V367.7H421.0V369.7H422.0V370.6H423.0V371.0H424.0V371.5H425.0V372.2H426.0V372.6H427.0V373.0H428.0V373.4H429.0V373.8H430.0V374.2H431.0V374.2H432.0V374.2H433.0V374.2H434.0V374.2H435.0V374.2H436.0V374.2" fill="none" stroke="#080808" stroke-width="3.5" stroke-linejoin="miter" stroke-linecap="square"/>
<path d="M348.5 285.6H349.5V363.2H350.5V365.6H351.5V367.7H352.5V368.9H353.5V367.7H354.5V366.5H355.5V364.3H356.5V363.0H357.5V361.3H358.5V359.5H359.5V356.8H360.5V355.5H361.4V351.2H362.4V348.4H363.4V344.8H364.4V339.5H365.4V335.1H366.4V328.6H367.4V319.7H368.4V310.3H369.4V307.5H370.4V303.4H371.4V300.9H372.4V292.0H373.4V276.6H374.4V283.0H375.4V290.1H376.4V289.2H377.4V285.5H378.4V281.6H379.4V284.8H380.4V290.2H381.4V302.5H382.4V313.5H383.4V320.6H384.4V325.1H385.3V334.8H386.3V344.5H387.3V351.5H388.3V359.1H389.3V362.8H390.3V366.8H391.3V369.0H392.3V370.5H393.3V372.3H394.3V373.9H395.3V373.9H396.3V373.9H397.3V373.9" fill="none" stroke="#080808" stroke-width="2.4" stroke-linejoin="miter"/>
<line x1="349.3" y1="240.5" x2="349.3" y2="374.6" stroke="#111" stroke-width="1.2"/>
<line x1="347.7" y1="373.6" x2="505.3" y2="373.6" stroke="#080808" stroke-width="3.0"/>
<line x1="347.1" y1="340.3" x2="349.3" y2="340.3" stroke="#222" stroke-width="1"/>
<line x1="347.1" y1="307.1" x2="349.3" y2="307.1" stroke="#222" stroke-width="1"/>
<line x1="347.1" y1="273.8" x2="349.3" y2="273.8" stroke="#222" stroke-width="1"/>
<line x1="347.8" y1="240.5" x2="349.3" y2="240.5" stroke="#222" stroke-width="1"/>
<line x1="349.3" y1="373.6" x2="349.3" y2="376.8" stroke="#111" stroke-width="1.2"/>
<line x1="388.2" y1="373.6" x2="388.2" y2="376.8" stroke="#111" stroke-width="1.2"/>
<line x1="427.1" y1="373.6" x2="427.1" y2="376.8" stroke="#111" stroke-width="1.2"/>
<line x1="466.1" y1="373.6" x2="466.1" y2="376.8" stroke="#111" stroke-width="1.2"/>
<line x1="505.0" y1="373.6" x2="505.0" y2="376.8" stroke="#111" stroke-width="1.2"/>
<g fill="#111">
<text transform="translate(329.6 260.6) scale(0.790 1)" font-family="'Liberation Serif',serif" font-size="15.2" font-weight="normal" stroke="#111" stroke-width="0.60">32</text>
<text transform="translate(331.1 390.5) scale(0.745 1)" font-family="'Liberation Serif',serif" font-size="15.6" font-weight="normal" stroke="#111" stroke-width="0.60">0</text>
<text transform="translate(344.4 389.1) scale(0.745 1)" font-family="'Liberation Serif',serif" font-size="15.6" font-weight="normal" stroke="#111" stroke-width="0.60">10</text>
<text transform="translate(357.9 384.1) scale(0.920 1)" font-family="'Liberation Sans',serif" font-size="9.4" font-weight="bold" stroke="#111" stroke-width="0.20">0</text>
<text transform="translate(381.4 389.1) scale(0.745 1)" font-family="'Liberation Serif',serif" font-size="15.6" font-weight="normal" stroke="#111" stroke-width="0.60">10</text>
<text transform="translate(394.9 384.1) scale(0.920 1)" font-family="'Liberation Sans',serif" font-size="9.4" font-weight="bold" stroke="#111" stroke-width="0.20">1</text>
<text transform="translate(419.9 389.1) scale(0.745 1)" font-family="'Liberation Serif',serif" font-size="15.6" font-weight="normal" stroke="#111" stroke-width="0.60">10</text>
<text transform="translate(433.4 384.1) scale(0.920 1)" font-family="'Liberation Sans',serif" font-size="9.4" font-weight="bold" stroke="#111" stroke-width="0.20">2</text>
<text transform="translate(460.4 389.1) scale(0.745 1)" font-family="'Liberation Serif',serif" font-size="15.6" font-weight="normal" stroke="#111" stroke-width="0.60">10</text>
<text transform="translate(473.9 384.1) scale(0.920 1)" font-family="'Liberation Sans',serif" font-size="9.4" font-weight="bold" stroke="#111" stroke-width="0.20">3</text>
<text transform="translate(501.4 389.1) scale(0.745 1)" font-family="'Liberation Serif',serif" font-size="15.6" font-weight="normal" stroke="#111" stroke-width="0.60">10</text>
<text transform="translate(514.9 384.1) scale(0.920 1)" font-family="'Liberation Sans',serif" font-size="9.4" font-weight="bold" stroke="#111" stroke-width="0.20">4</text>
</g>
<text transform="translate(408.5 250.5) scale(1.025 1)" font-family="'Liberation Sans',sans-serif" font-weight="bold" font-size="23.4" fill="#0a0a0a">CD40</text>
</g>
<g>
<path d="M358.0 590.7H359.0V590.7H360.0V590.7H361.0V590.6H362.0V590.3H363.0V589.1H364.0V587.5H365.0V586.7H366.0V586.2H367.0V583.4H368.0V580.8H369.0V577.3H370.0V570.8H371.0V568.0H372.0V560.8H373.0V550.8H374.0V544.7H375.0V537.2H376.0V530.1H377.0V521.3H378.0V519.8H379.0V517.4H380.0V516.5H381.0V514.2H382.0V511.0H383.0V508.5H384.0V508.0H385.0V510.3H386.0V511.0H387.0V517.4H388.0V525.4H389.0V529.8H390.0V537.0H391.0V541.8H392.0V546.6H393.0V552.6H394.0V553.6H395.0V559.4H396.0V562.6H397.0V566.2H398.0V570.3H399.0V575.8H400.0V579.3H401.0V581.7H402.0V584.7H403.0V586.3H404.0V586.9H405.0V588.4H406.0V589.7H407.0V590.1H408.0V590.2H409.0V590.3H410.0V590.4H411.0V590.5H412.0V590.6H413.0V590.7H414.0V590.7H415.0V590.7H416.0V590.7H417.0V590.7H418.0V590.7H419.0V590.7H420.0V590.7V590.7H358.0Z" fill="url(#ht)" stroke="none"/>
<path d="M358.0 591.3H359.0V591.1H360.0V590.8H361.0V590.6H362.0V590.3H363.0V589.1H364.0V587.5H365.0V586.7H366.0V586.2H367.0V583.4H368.0V580.8H369.0V577.3H370.0V570.8H371.0V568.0H372.0V560.8H373.0V550.8H374.0V544.7H375.0V537.2H376.0V530.1H377.0V521.3H378.0V519.8H379.0V517.4H380.0V516.5H381.0V514.2H382.0V511.0H383.0V508.5H384.0V508.0H385.0V510.3H386.0V511.0H387.0V517.4H388.0V525.4H389.0V529.8H390.0V537.0H391.0V541.8H392.0V546.6H393.0V552.6H394.0V553.6H395.0V559.4H396.0V562.6H397.0V566.2H398.0V570.3H399.0V575.8H400.0V579.3H401.0V581.7H402.0V584.7H403.0V586.3H404.0V586.9H405.0V588.4H406.0V589.7H407.0V590.1H408.0V590.2H409.0V590.3H410.0V590.4H411.0V590.5H412.0V590.6H413.0V590.7H414.0V590.8H415.0V590.9H416.0V591.0H417.0V591.1H418.0V591.2H419.0V591.2H420.0V591.3" fill="none" stroke="#080808" stroke-width="3.5" stroke-linejoin="miter" stroke-linecap="square"/>
<path d="M344.1 502.7H345.1V581.3H346.1V583.3H347.1V585.2H348.1V585.1H349.1V583.6H350.1V582.8H351.1V581.0H352.1V579.6H353.1V577.7H354.1V574.4H355.1V572.7H356.1V568.9H357.1V565.4H358.1V562.8H359.1V556.4H360.1V552.0H361.1V543.5H362.1V534.2H363.1V524.7H364.1V521.1H365.1V521.0H366.1V517.8H367.1V503.9H368.1V493.7H369.1V504.5H370.1V508.1H371.1V502.4H372.1V498.7H373.1V503.0H374.1V507.2H375.1V519.0H376.1V529.8H377.1V537.2H378.1V545.7H379.1V555.4H380.0V564.6H381.0V572.5H382.0V577.5H383.0V582.0H384.0V585.8H385.0V587.6H386.0V589.0H387.0V590.7H388.0V591.0H389.0V591.0H390.0V591.0" fill="none" stroke="#080808" stroke-width="2.4" stroke-linejoin="miter"/>
<line x1="344.9" y1="458.0" x2="344.9" y2="591.7" stroke="#111" stroke-width="1.2"/>
<line x1="343.3" y1="590.7" x2="488.3" y2="590.7" stroke="#080808" stroke-width="3.0"/>
<line x1="342.7" y1="557.5" x2="344.9" y2="557.5" stroke="#222" stroke-width="1"/>
<line x1="342.7" y1="524.4" x2="344.9" y2="524.4" stroke="#222" stroke-width="1"/>
<line x1="342.7" y1="491.2" x2="344.9" y2="491.2" stroke="#222" stroke-width="1"/>
<line x1="343.4" y1="458.0" x2="344.9" y2="458.0" stroke="#222" stroke-width="1"/>
<line x1="344.9" y1="590.7" x2="344.9" y2="593.9" stroke="#111" stroke-width="1.2"/>
<line x1="380.7" y1="590.7" x2="380.7" y2="593.9" stroke="#111" stroke-width="1.2"/>
<line x1="416.4" y1="590.7" x2="416.4" y2="593.9" stroke="#111" stroke-width="1.2"/>
<line x1="452.2" y1="590.7" x2="452.2" y2="593.9" stroke="#111" stroke-width="1.2"/>
<line x1="488.0" y1="590.7" x2="488.0" y2="593.9" stroke="#111" stroke-width="1.2"/>
<g fill="#111">
<text transform="translate(326.1 478.6) scale(0.790 1)" font-family="'Liberation Serif',serif" font-size="15.2" font-weight="normal" stroke="#111" stroke-width="0.60">32</text>
<text transform="translate(327.1 607.0) scale(0.745 1)" font-family="'Liberation Serif',serif" font-size="15.6" font-weight="normal" stroke="#111" stroke-width="0.60">0</text>
<text transform="translate(338.9 605.6) scale(0.745 1)" font-family="'Liberation Serif',serif" font-size="15.6" font-weight="normal" stroke="#111" stroke-width="0.60">10</text>
<text transform="translate(352.4 600.6) scale(0.920 1)" font-family="'Liberation Sans',serif" font-size="9.4" font-weight="bold" stroke="#111" stroke-width="0.20">0</text>
<text transform="translate(375.4 605.6) scale(0.745 1)" font-family="'Liberation Serif',serif" font-size="15.6" font-weight="normal" stroke="#111" stroke-width="0.60">10</text>
<text transform="translate(388.9 600.6) scale(0.920 1)" font-family="'Liberation Sans',serif" font-size="9.4" font-weight="bold" stroke="#111" stroke-width="0.20">1</text>
<text transform="translate(411.9 605.6) scale(0.745 1)" font-family="'Liberation Serif',serif" font-size="15.6" font-weight="normal" stroke="#111" stroke-width="0.60">10</text>
<text transform="translate(425.4 600.6) scale(0.920 1)" font-family="'Liberation Sans',serif" font-size="9.4" font-weight="bold" stroke="#111" stroke-width="0.20">2</text>
<text transform="translate(446.9 605.6) scale(0.745 1)" font-family="'Liberation Serif',serif" font-size="15.6" font-weight="normal" stroke="#111" stroke-width="0.60">10</text>
<text transform="translate(460.4 600.6) scale(0.920 1)" font-family="'Liberation Sans',serif" font-size="9.4" font-weight="bold" stroke="#111" stroke-width="0.20">3</text>
<text transform="translate(482.4 605.6) scale(0.745 1)" font-family="'Liberation Serif',serif" font-size="15.6" font-weight="normal" stroke="#111" stroke-width="0.60">10</text>
<text transform="translate(495.9 600.6) scale(0.920 1)" font-family="'Liberation Sans',serif" font-size="9.4" font-weight="bold" stroke="#111" stroke-width="0.20">4</text>
</g>
<text transform="translate(408.5 463.0) scale(1.025 1)" font-family="'Liberation Sans',sans-serif" font-weight="bold" font-size="23.4" fill="#0a0a0a">CD80</text>
</g>
<g>
<path d="M370.0 792.0H371.0V792.0H372.0V792.0H373.0V792.0H374.0V791.7H375.0V790.5H376.0V789.0H377.0V788.7H378.0V787.9H379.0V786.3H380.0V785.4H381.0V784.5H382.0V783.5H383.0V781.3H384.0V777.2H385.0V775.2H386.0V768.6H387.0V763.8H388.0V762.2H389.0V757.9H390.0V749.9H391.0V746.6H392.0V746.9H393.0V740.6H394.0V738.7H395.0V736.4H396.0V733.5H397.0V730.0H398.0V728.1H399.0V732.7H400.0V733.1H401.0V727.4H402.0V723.1H403.0V721.6H404.0V726.2H405.0V730.3H406.0V735.7H407.0V737.3H408.0V743.4H409.0V742.5H410.0V745.6H411.0V746.0H412.0V745.9H413.0V751.3H414.0V754.5H415.0V754.8H416.0V760.3H417.0V766.6H418.0V765.2H419.0V767.5H420.0V769.6H421.0V770.1H422.0V774.3H423.0V775.1H424.0V778.9H425.0V780.4H426.0V780.7H427.0V783.6H428.0V783.3H429.0V783.2H430.0V781.4H431.0V782.0H432.0V784.7H433.0V785.9H434.0V788.3H435.0V789.0H436.0V789.8H437.0V790.7H438.0V791.4H439.0V792.0H440.0V792.0H441.0V792.0H442.0V792.0H443.0V792.0H444.0V792.0V792.0H370.0Z" fill="url(#ht)" stroke="none"/>
<path d="M370.0 792.6H371.0V792.4H372.0V792.2H373.0V792.0H374.0V791.7H375.0V790.5H376.0V789.0H377.0V788.7H378.0V787.9H379.0V786.3H380.0V785.4H381.0V784.5H382.0V783.5H383.0V781.3H384.0V777.2H385.0V775.2H386.0V768.6H387.0V763.8H388.0V762.2H389.0V757.9H390.0V749.9H391.0V746.6H392.0V746.9H393.0V740.6H394.0V738.7H395.0V736.4H396.0V733.5H397.0V730.0H398.0V728.1H399.0V732.7H400.0V733.1H401.0V727.4H402.0V723.1H403.0V721.6H404.0V726.2H405.0V730.3H406.0V735.7H407.0V737.3H408.0V743.4H409.0V742.5H410.0V745.6H411.0V746.0H412.0V745.9H413.0V751.3H414.0V754.5H415.0V754.8H416.0V760.3H417.0V766.6H418.0V765.2H419.0V767.5H420.0V769.6H421.0V770.1H422.0V774.3H423.0V775.1H424.0V778.9H425.0V780.4H426.0V780.7H427.0V783.6H428.0V783.3H429.0V783.2H430.0V781.4H431.0V782.0H432.0V784.7H433.0V785.9H434.0V788.3H435.0V789.0H436.0V789.8H437.0V790.7H438.0V791.4H439.0V792.0H440.0V792.6H441.0V792.6H442.0V792.6H443.0V792.6H444.0V792.6" fill="none" stroke="#080808" stroke-width="3.5" stroke-linejoin="miter" stroke-linecap="square"/>
<path d="M348.6 704.0H349.6V781.9H350.6V784.5H351.6V785.5H352.6V787.3H353.6V785.5H354.6V784.5H355.6V783.5H356.6V781.4H357.6V779.9H358.6V778.4H359.6V775.9H360.6V773.2H361.5V769.4H362.5V767.4H363.5V762.5H364.5V759.1H365.5V753.8H366.5V745.7H367.5V737.6H368.5V728.9H369.5V724.9H370.5V721.4H371.5V720.0H372.5V712.0H373.5V695.0H374.5V698.9H375.5V709.0H376.5V707.0H377.5V705.0H378.5V700.0H379.5V705.7H380.5V711.0H381.5V721.2H382.5V731.5H383.5V736.7H384.5V745.1H385.4V755.2H386.4V764.1H387.4V770.8H388.4V777.6H389.4V781.1H390.4V785.3H391.4V787.8H392.4V788.8H393.4V790.7H394.4V792.3H395.4V792.3H396.4V792.3H397.4V792.3" fill="none" stroke="#080808" stroke-width="2.4" stroke-linejoin="miter"/>
<line x1="349.4" y1="658.7" x2="349.4" y2="793.0" stroke="#111" stroke-width="1.2"/>
<line x1="347.8" y1="792.0" x2="505.3" y2="792.0" stroke="#080808" stroke-width="3.0"/>
<line x1="347.2" y1="758.7" x2="349.4" y2="758.7" stroke="#222" stroke-width="1"/>
<line x1="347.2" y1="725.4" x2="349.4" y2="725.4" stroke="#222" stroke-width="1"/>
<line x1="347.2" y1="692.0" x2="349.4" y2="692.0" stroke="#222" stroke-width="1"/>
<line x1="347.9" y1="658.7" x2="349.4" y2="658.7" stroke="#222" stroke-width="1"/>
<line x1="349.4" y1="792.0" x2="349.4" y2="795.2" stroke="#111" stroke-width="1.2"/>
<line x1="388.3" y1="792.0" x2="388.3" y2="795.2" stroke="#111" stroke-width="1.2"/>
<line x1="427.2" y1="792.0" x2="427.2" y2="795.2" stroke="#111" stroke-width="1.2"/>
<line x1="466.1" y1="792.0" x2="466.1" y2="795.2" stroke="#111" stroke-width="1.2"/>
<line x1="505.0" y1="792.0" x2="505.0" y2="795.2" stroke="#111" stroke-width="1.2"/>
<g fill="#111">
<text transform="translate(329.6 678.6) scale(0.790 1)" font-family="'Liberation Serif',serif" font-size="15.2" font-weight="normal" stroke="#111" stroke-width="0.60">32</text>
<text transform="translate(331.1 809.5) scale(0.745 1)" font-family="'Liberation Serif',serif" font-size="15.6" font-weight="normal" stroke="#111" stroke-width="0.60">0</text>
<text transform="translate(344.4 808.1) scale(0.745 1)" font-family="'Liberation Serif',serif" font-size="15.6" font-weight="normal" stroke="#111" stroke-width="0.60">10</text>
<text transform="translate(357.9 803.1) scale(0.920 1)" font-family="'Liberation Sans',serif" font-size="9.4" font-weight="bold" stroke="#111" stroke-width="0.20">0</text>
<text transform="translate(381.9 808.1) scale(0.745 1)" font-family="'Liberation Serif',serif" font-size="15.6" font-weight="normal" stroke="#111" stroke-width="0.60">10</text>
<text transform="translate(395.4 803.1) scale(0.920 1)" font-family="'Liberation Sans',serif" font-size="9.4" font-weight="bold" stroke="#111" stroke-width="0.20">1</text>
<text transform="translate(419.9 808.1) scale(0.745 1)" font-family="'Liberation Serif',serif" font-size="15.6" font-weight="normal" stroke="#111" stroke-width="0.60">10</text>
<text transform="translate(433.4 803.1) scale(0.920 1)" font-family="'Liberation Sans',serif" font-size="9.4" font-weight="bold" stroke="#111" stroke-width="0.20">2</text>
<text transform="translate(460.4 808.1) scale(0.745 1)" font-family="'Liberation Serif',serif" font-size="15.6" font-weight="normal" stroke="#111" stroke-width="0.60">10</text>
<text transform="translate(473.9 803.1) scale(0.920 1)" font-family="'Liberation Sans',serif" font-size="9.4" font-weight="bold" stroke="#111" stroke-width="0.20">3</text>
<text transform="translate(501.4 808.1) scale(0.745 1)" font-family="'Liberation Serif',serif" font-size="15.6" font-weight="normal" stroke="#111" stroke-width="0.60">10</text>
<text transform="translate(514.9 803.1) scale(0.920 1)" font-family="'Liberation Sans',serif" font-size="9.4" font-weight="bold" stroke="#111" stroke-width="0.20">4</text>
</g>
<text transform="translate(409.0 675.5) scale(1.025 1)" font-family="'Liberation Sans',sans-serif" font-weight="bold" font-size="23.4" fill="#0a0a0a">CD86</text>
</g>
<g>
<path d="M350.5 990.9H351.5V989.9H352.5V989.3H353.5V988.7H354.5V987.9H355.5V988.8H356.5V989.7H357.5V989.2H358.5V989.3H359.4V989.9H360.4V989.5H361.4V987.7H362.4V987.3H363.4V984.4H364.4V984.2H365.4V980.8H366.4V976.4H367.4V972.9H368.4V967.1H369.4V962.2H370.4V959.7H371.4V954.6H372.4V949.3H373.4V942.0H374.4V940.7H375.3V938.0H376.3V933.1H377.3V929.5H378.3V926.8H379.3V925.4H380.3V918.6H381.3V911.2H382.3V915.0H383.3V910.0H384.3V911.6H385.3V914.5H386.3V920.6H387.3V931.7H388.3V937.2H389.3V940.5H390.3V945.5H391.2V947.5H392.2V951.5H393.2V955.9H394.2V960.1H395.2V962.3H396.2V967.4H397.2V970.9H398.2V974.2H399.2V977.3H400.2V978.9H401.2V980.0H402.2V981.6H403.2V983.0H404.2V983.6H405.2V983.4H406.2V983.5H407.2V983.5H408.1V982.8H409.1V982.2H410.1V983.9H411.1V985.9H412.1V986.7H413.1V987.9H414.1V987.9H415.1V989.5H416.1V990.0H417.1V990.5H418.1V990.5H419.1V991.1H420.1V991.5H421.1V991.8H422.1V992.2H423.1V992.5H424.0V992.8H425.0V993.0H426.0V993.3H427.0V993.3H428.0V993.3H429.0V993.3H430.0V993.3H431.0V993.3H432.0V993.3V993.3H350.5Z" fill="url(#ht)" stroke="none"/>
<path d="M350.5 990.9H351.5V989.9H352.5V989.3H353.5V988.7H354.5V987.9H355.5V988.8H356.5V989.7H357.5V989.2H358.5V989.3H359.4V989.9H360.4V989.5H361.4V987.7H362.4V987.3H363.4V984.4H364.4V984.2H365.4V980.8H366.4V976.4H367.4V972.9H368.4V967.1H369.4V962.2H370.4V959.7H371.4V954.6H372.4V949.3H373.4V942.0H374.4V940.7H375.3V938.0H376.3V933.1H377.3V929.5H378.3V926.8H379.3V925.4H380.3V918.6H381.3V911.2H382.3V915.0H383.3V910.0H384.3V911.6H385.3V914.5H386.3V920.6H387.3V931.7H388.3V937.2H389.3V940.5H390.3V945.5H391.2V947.5H392.2V951.5H393.2V955.9H394.2V960.1H395.2V962.3H396.2V967.4H397.2V970.9H398.2V974.2H399.2V977.3H400.2V978.9H401.2V980.0H402.2V981.6H403.2V983.0H404.2V983.6H405.2V983.4H406.2V983.5H407.2V983.5H408.1V982.8H409.1V982.2H410.1V983.9H411.1V985.9H412.1V986.7H413.1V987.9H414.1V987.9H415.1V989.5H416.1V990.0H417.1V990.5H418.1V990.5H419.1V991.1H420.1V991.5H421.1V991.8H422.1V992.2H423.1V992.5H424.0V992.8H425.0V993.0H426.0V993.3H427.0V993.6H428.0V993.9H429.0V993.9H430.0V993.9H431.0V993.9H432.0V993.9" fill="none" stroke="#080808" stroke-width="3.5" stroke-linejoin="miter" stroke-linecap="square"/>
<path d="M349.1 905.3H350.1V983.5H351.1V985.0H352.1V987.6H353.1V988.1H354.1V987.1H355.1V985.4H356.1V984.2H357.1V983.2H358.1V981.5H359.1V978.7H360.1V976.5H361.1V974.1H362.0V971.3H363.0V967.5H364.0V963.2H365.0V958.8H366.0V955.2H367.0V948.3H368.0V939.7H369.0V931.3H370.0V925.2H371.0V922.4H372.0V921.9H373.0V913.4H374.0V896.3H375.0V901.4H376.0V907.5H377.0V906.9H378.0V906.1H379.0V901.3H380.0V904.3H381.0V911.2H382.0V922.6H383.0V932.4H384.0V939.6H385.0V944.5H385.9V955.6H386.9V964.7H387.9V972.1H388.9V978.1H389.9V982.8H390.9V986.0H391.9V988.6H392.9V990.5H393.9V992.0H394.9V993.6H395.9V993.6H396.9V993.6H397.9V993.6" fill="none" stroke="#080808" stroke-width="2.4" stroke-linejoin="miter"/>
<line x1="349.9" y1="860.0" x2="349.9" y2="994.3" stroke="#111" stroke-width="1.2"/>
<line x1="348.3" y1="993.3" x2="505.8" y2="993.3" stroke="#080808" stroke-width="3.0"/>
<line x1="347.7" y1="960.0" x2="349.9" y2="960.0" stroke="#222" stroke-width="1"/>
<line x1="347.7" y1="926.6" x2="349.9" y2="926.6" stroke="#222" stroke-width="1"/>
<line x1="347.7" y1="893.3" x2="349.9" y2="893.3" stroke="#222" stroke-width="1"/>
<line x1="348.4" y1="860.0" x2="349.9" y2="860.0" stroke="#222" stroke-width="1"/>
<line x1="349.9" y1="993.3" x2="349.9" y2="996.5" stroke="#111" stroke-width="1.2"/>
<line x1="388.8" y1="993.3" x2="388.8" y2="996.5" stroke="#111" stroke-width="1.2"/>
<line x1="427.7" y1="993.3" x2="427.7" y2="996.5" stroke="#111" stroke-width="1.2"/>
<line x1="466.6" y1="993.3" x2="466.6" y2="996.5" stroke="#111" stroke-width="1.2"/>
<line x1="505.5" y1="993.3" x2="505.5" y2="996.5" stroke="#111" stroke-width="1.2"/>
<g fill="#111">
<text transform="translate(329.6 880.6) scale(0.790 1)" font-family="'Liberation Serif',serif" font-size="15.2" font-weight="normal" stroke="#111" stroke-width="0.60">32</text>
<text transform="translate(331.1 1010.5) scale(0.745 1)" font-family="'Liberation Serif',serif" font-size="15.6" font-weight="normal" stroke="#111" stroke-width="0.60">0</text>
<text transform="translate(344.4 1009.1) scale(0.745 1)" font-family="'Liberation Serif',serif" font-size="15.6" font-weight="normal" stroke="#111" stroke-width="0.60">10</text>
<text transform="translate(357.9 1004.1) scale(0.920 1)" font-family="'Liberation Sans',serif" font-size="9.4" font-weight="bold" stroke="#111" stroke-width="0.20">0</text>
<text transform="translate(381.9 1009.1) scale(0.745 1)" font-family="'Liberation Serif',serif" font-size="15.6" font-weight="normal" stroke="#111" stroke-width="0.60">10</text>
<text transform="translate(395.4 1004.1) scale(0.920 1)" font-family="'Liberation Sans',serif" font-size="9.4" font-weight="bold" stroke="#111" stroke-width="0.20">1</text>
<text transform="translate(419.9 1009.1) scale(0.745 1)" font-family="'Liberation Serif',serif" font-size="15.6" font-weight="normal" stroke="#111" stroke-width="0.60">10</text>
<text transform="translate(433.4 1004.1) scale(0.920 1)" font-family="'Liberation Sans',serif" font-size="9.4" font-weight="bold" stroke="#111" stroke-width="0.20">2</text>
<text transform="translate(460.4 1009.1) scale(0.745 1)" font-family="'Liberation Serif',serif" font-size="15.6" font-weight="normal" stroke="#111" stroke-width="0.60">10</text>
<text transform="translate(473.9 1004.1) scale(0.920 1)" font-family="'Liberation Sans',serif" font-size="9.4" font-weight="bold" stroke="#111" stroke-width="0.20">3</text>
<text transform="translate(501.4 1009.1) scale(0.745 1)" font-family="'Liberation Serif',serif" font-size="15.6" font-weight="normal" stroke="#111" stroke-width="0.60">10</text>
<text transform="translate(514.9 1004.1) scale(0.920 1)" font-family="'Liberation Sans',serif" font-size="9.4" font-weight="bold" stroke="#111" stroke-width="0.20">4</text>
</g>
<text transform="translate(409.0 876.8) scale(1.025 1)" font-family="'Liberation Sans',sans-serif" font-weight="bold" font-size="23.4" fill="#0a0a0a">CD14</text>
</g>
</svg>
</body>
</html>
